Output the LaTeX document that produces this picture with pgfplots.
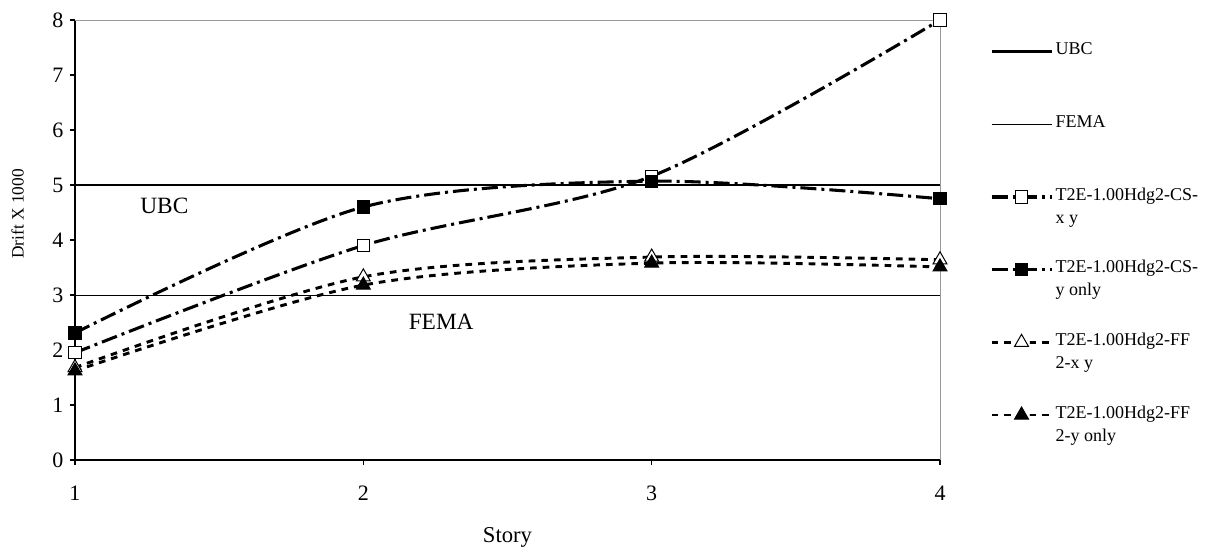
\documentclass[border=0pt]{standalone}
\usepackage{fontspec}
\setmainfont{Liberation Serif}
\usepackage{pgfplots}
\pgfplotsset{compat=1.18}
\newcommand{\LE}[2]{\raisebox{-3.2pt}[0pt][0pt]{\parbox[t]{130pt}{\strut #1\\\strut #2}}}
\begin{document}
\begin{tikzpicture}
\useasboundingbox (-56.25pt,-69.75pt) rectangle (851.25pt,345pt);
\begin{axis}[
  at={(0,0)}, anchor=south west,
  scale only axis, width=648.75pt, height=330pt,
  xmin=1, xmax=4, ymin=0, ymax=8,
  xtick={1,2,3,4}, ytick={0,1,2,3,4,5,6,7,8},
  axis x line*=bottom, axis y line*=left,
  axis line style={black, line width=1pt},
  tick align=outside, major tick length=3.75pt,
  tick style={black, line width=1pt},
  /pgf/number format/assume math mode=true,
  ticklabel style={font=\fontsize{16.5}{19}\selectfont},
  xticklabel style={yshift=-12pt},
  yticklabel style={anchor=east, xshift=-1.5pt},
  xlabel={Story}, ylabel={Drift X 1000},
  every axis x label/.style={at={(axis description cs:0.5,-0.175)}, anchor=center, font=\fontsize{17}{20}\selectfont},
  every axis y label/.style={at={(axis description cs:-0.0663,0.559)}, rotate=90, anchor=center, font=\fontsize{13}{15}\selectfont},
  clip=false,
  legend cell align=left,
  legend style={draw=none, fill=none, at={(axis description cs:1,1)}, anchor=north west,
    xshift=37.5pt, yshift=3.5pt, inner sep=0pt, outer sep=0pt, row sep=0pt, column sep=2pt,
    font=\fontsize{13.5}{17.25}\selectfont, nodes={inner sep=0pt}},
  legend image code/.code={\path[draw=none, fill=none] (0pt,-27.25pt) rectangle (0pt,27.25pt);
    \draw[mark repeat=2, mark phase=2, #1] plot coordinates {(0pt,0pt)(22.5pt,0pt)(45pt,0pt)};},
]
\draw[black!40, line width=0.75pt] (rel axis cs:0,1) -- (rel axis cs:1,1) -- (rel axis cs:1,0);

\addplot[black, line width=2pt] coordinates {(1,5) (4,5)};
\addlegendentry{\LE{UBC}{}}
\addplot[black, line width=0.75pt] coordinates {(1,3) (4,3)};
\addlegendentry{\LE{FEMA}{}}

\addplot[black, line width=2.3pt, smooth, dash pattern=on 12pt off 3.75pt on 2.25pt off 3.75pt,
  mark=square*, mark size=4.6pt, mark options={solid, fill=white, draw=black, line width=0.75pt}]
  coordinates {(1,1.95) (2,3.90) (3,5.16) (4,8.0)};
\addlegendentry{\LE{T2E-1.00Hdg2-CS-}{x y}}

\addplot[black, line width=2.3pt, smooth, dash pattern=on 12pt off 3.75pt on 2.25pt off 3.75pt,
  mark=square*, mark size=4.6pt, mark options={solid, fill=black, draw=black, line width=0.75pt}]
  coordinates {(1,2.31) (2,4.60) (3,5.07) (4,4.75)};
\addlegendentry{\LE{T2E-1.00Hdg2-CS-}{y only}}

\addplot[black, line width=2.2pt, smooth, dash pattern=on 5pt off 4.5pt,
  mark=triangle*, mark size=6pt, mark options={solid, fill=white, draw=black, line width=0.75pt}]
  coordinates {(1,1.68) (2,3.33) (3,3.69) (4,3.64)};
\addlegendentry{\LE{T2E-1.00Hdg2-FF}{2-x y}}

\addplot[black, line width=2.2pt, smooth, dash pattern=on 5pt off 4.5pt,
  mark=triangle*, mark size=6pt, mark options={solid, fill=black, draw=black, line width=0.75pt}]
  coordinates {(1,1.62) (2,3.18) (3,3.58) (4,3.51)};
\addlegendentry{\LE{T2E-1.00Hdg2-FF}{2-y only}}

\node[font=\fontsize{17.5}{20}\selectfont] at (axis cs:1.31,4.62) {UBC};
\node[font=\fontsize{17.5}{20}\selectfont] at (axis cs:2.27,2.52) {FEMA};
\end{axis}
\end{tikzpicture}
\end{document}
